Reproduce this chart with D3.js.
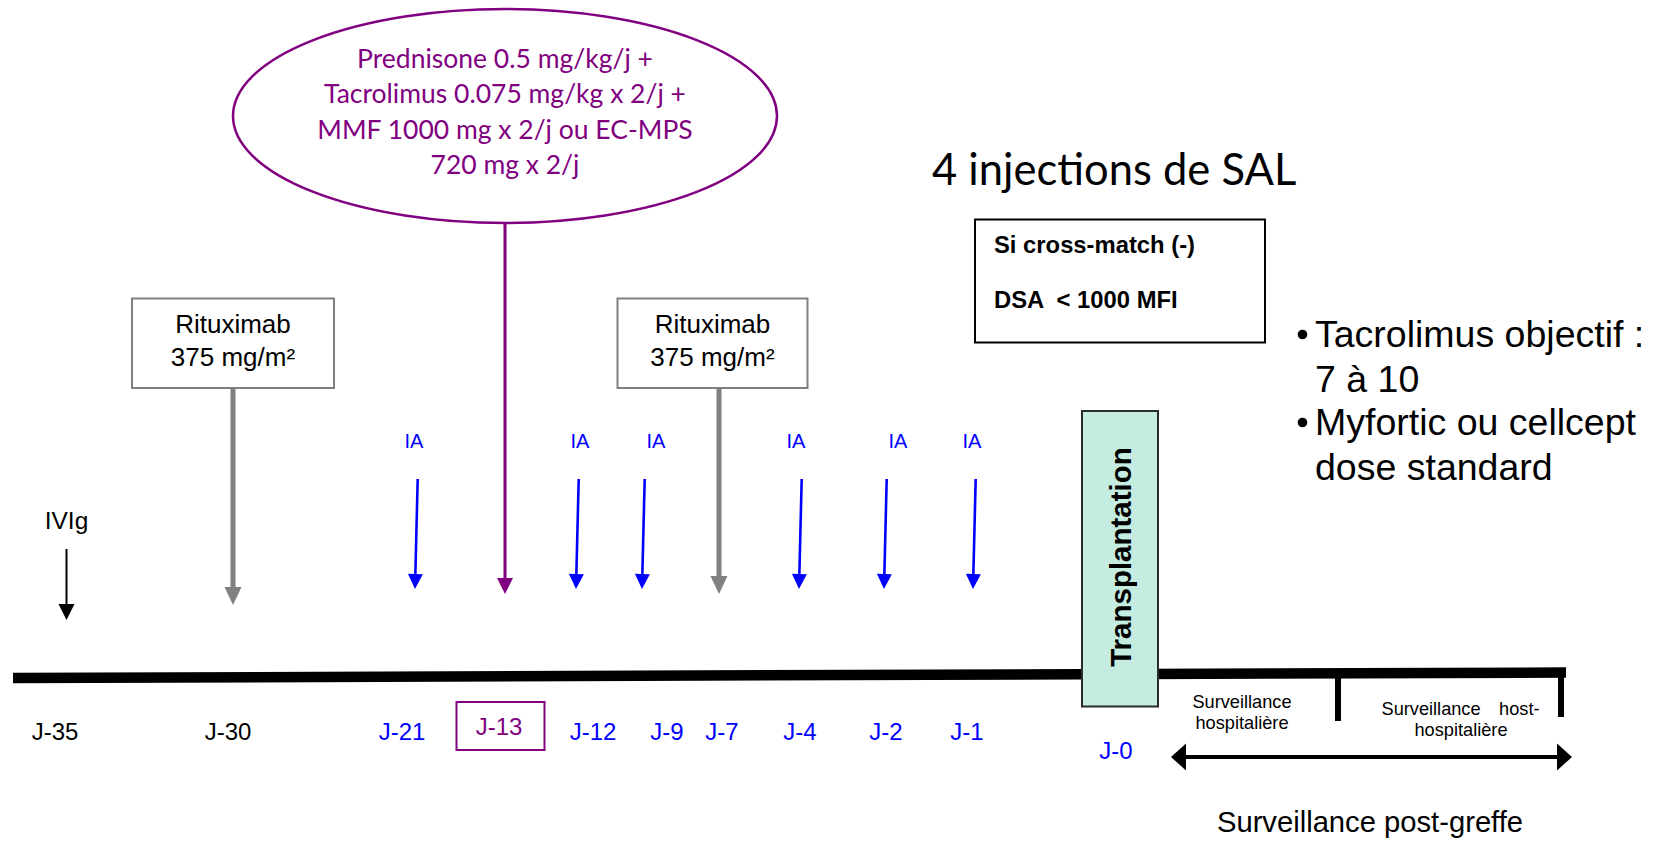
<!DOCTYPE html>
<html>
<head>
<meta charset="utf-8">
<script src="https://cdn.jsdelivr.net/npm/d3@7"></script>
<style>
    body { margin: 0; background: white; }
    svg { display: block; }
    text { white-space: pre; }
</style>
</head>
<body>
<div class="chart"></div>
<script>
// timeline days and their labels
var days = [-35, -30, -21, -13, -12, -9, -7, -4, -2, -1, 0];
var dayLabels = ["J-35", "J-30", "J-21", "J-13", "J-12", "J-9", "J-7", "J-4", "J-2", "J-1", "J-0"];

// treatments given on each day
var ivigDays = [-35];
var rituximabDays = [-30, -7];
var predDays = [-13];
var iaDays = [-21, -12, -9, -4, -2, -1];
var transplantDay = [0];

var ellipseLines = ["Prednisone 0.5 mg/kg/j +", "Tacrolimus 0.075 mg/kg x 2/j +", "MMF 1000 mg x 2/j ou EC-MPS", "720 mg x 2/j"];
var rituximabLines = ["Rituximab", "375 mg/m²"];
var crossMatchLines = ["Si cross-match (-)", "DSA  < 1000 MFI"];
var bulletLines = [["Tacrolimus objectif :", "7 à 10"], ["Myfortic ou cellcept", "dose standard"]];
var phaseLines = [["Surveillance", "hospitalière"], ["Surveillance", "host-", "hospitalière"]];
var titleSAL = "4 injections de SAL";
var titlePost = "Surveillance post-greffe";

var w = 1655;
var h = 842;
var purple = "#800080";
var blue = "#0000ff";
var gray = "#808080";
var arial = "Liberation Sans, Arial, sans-serif";
var calibri = "Lato, sans-serif";

// hand-drawn timeline is not evenly spaced, so piecewise scales
var xArrow = d3.scaleLinear()
                .domain([-35, -30, -21, -13, -12, -9, -7, -4, -2, -1, 0])
                .range([66.5, 233, 415, 505, 576, 642, 719, 799, 884, 973, 1120]);
var xLabel = d3.scaleOrdinal()
                .domain(days)
                .range([55, 228, 402, 499, 593, 667, 722, 800, 886, 967, 1116]);
var xIA = d3.scaleOrdinal()
                .domain(iaDays)
                .range([414, 580, 656, 796, 898, 972]);

var svg = d3.select(".chart")
            .append("svg")
            .attr("width", w)
            .attr("height", h);

svg.append("rect").attr("width", w).attr("height", h).attr("fill", "white");

function arrow(x1, y1, x2, y2, color, sw, headW, headL){
    var a = Math.atan2(y2 - y1, x2 - x1);
    var bx = x2 - headL * Math.cos(a), by = y2 - headL * Math.sin(a);
    var px = -Math.sin(a) * headW / 2, py = Math.cos(a) * headW / 2;
    svg.append("line")
        .attr("x1", x1).attr("y1", y1)
        .attr("x2", bx + Math.cos(a)).attr("y2", by + Math.sin(a))
        .attr("stroke", color)
        .attr("stroke-width", sw);
    svg.append("path")
        .attr("d", d3.line()([[x2, y2], [bx + px, by + py], [bx - px, by - py]]) + "Z")
        .attr("fill", color);
}

//Ellipse with the immunosuppression
svg.append("ellipse")
    .attr("cx", 505).attr("cy", 116)
    .attr("rx", 272).attr("ry", 107)
    .attr("fill", "none")
    .attr("stroke", purple)
    .attr("stroke-width", 2.5);

svg.selectAll(".ell-text")
    .data(ellipseLines)
    .enter()
    .append("text")
    .attr("x", 505)
    .attr("y", function(d, i){ return 68 + i * 35.3; })
    .attr("text-anchor", "middle")
    .attr("font-family", calibri)
    .attr("font-size", 26.5)
    .attr("fill", purple)
    .text(function(d){ return d; });

predDays.forEach(function(d){
    arrow(xArrow(d), 223, xArrow(d), 594, purple, 3, 16, 16);
});

//Rituximab boxes and arrows
rituximabDays.forEach(function(d, i){
    var cx = i == 0 ? 233 : 712.5;
    var bw = i == 0 ? 202 : 190;
    svg.append("rect")
        .attr("x", cx - bw / 2).attr("y", 298.5)
        .attr("width", bw).attr("height", 89.5)
        .attr("fill", "white")
        .attr("stroke", gray)
        .attr("stroke-width", 2);
    svg.selectAll(".ritux" + i)
        .data(rituximabLines)
        .enter()
        .append("text")
        .attr("x", cx)
        .attr("y", function(t, j){ return 333 + j * 32.5; })
        .attr("text-anchor", "middle")
        .attr("font-family", arial)
        .attr("font-size", 26)
        .attr("fill", "black")
        .text(function(t){ return t; });
    arrow(xArrow(d), 389, xArrow(d), i == 0 ? 605 : 594, gray, 5, 17, 18);
});

//IVIg
ivigDays.forEach(function(d){
    svg.append("text")
        .attr("x", xArrow(d))
        .attr("y", 529)
        .attr("text-anchor", "middle")
        .attr("font-family", arial)
        .attr("font-size", 24.5)
        .text("IVIg");
    arrow(xArrow(d), 549, xArrow(d), 620, "black", 2, 16, 16);
});

//Immunoadsorption
iaDays.forEach(function(d){
    svg.append("text")
        .attr("x", xIA(d))
        .attr("y", 448)
        .attr("text-anchor", "middle")
        .attr("font-family", arial)
        .attr("font-size", 20)
        .attr("fill", blue)
        .text("IA");
    arrow(xArrow(d) + 2.7, 479, xArrow(d), 589, blue, 2.6, 15, 15);
});

//SAL and cross-match
svg.append("text")
    .attr("x", 932)
    .attr("y", 185)
    .attr("font-family", calibri)
    .attr("font-size", 43.5)
    .attr("fill", "black")
    .text(titleSAL);

svg.append("rect")
    .attr("x", 975).attr("y", 219.5)
    .attr("width", 290).attr("height", 123)
    .attr("fill", "white")
    .attr("stroke", "black")
    .attr("stroke-width", 2);

svg.selectAll(".xm")
    .data(crossMatchLines)
    .enter()
    .append("text")
    .attr("x", 994)
    .attr("y", function(d, i){ return 253 + i * 55; })
    .attr("font-family", arial)
    .attr("font-weight", "bold")
    .attr("font-size", 23.8)
    .text(function(d){ return d; });

//Bullets on the right
var bulletY = 347;
bulletLines.forEach(function(b, i){
    svg.append("circle")
        .attr("cx", 1302.5)
        .attr("cy", bulletY + i * 88 - 12.5)
        .attr("r", 4.8)
        .attr("fill", "black");
    b.forEach(function(t, j){
        svg.append("text")
            .attr("x", 1315)
            .attr("y", bulletY + i * 88 + j * 44.5)
            .attr("font-family", arial)
            .attr("font-size", 37.5)
            .text(t);
    });
});

//Main timeline
svg.append("line")
    .attr("x1", 13).attr("y1", 678)
    .attr("x2", 1566).attr("y2", 672.5)
    .attr("stroke", "black")
    .attr("stroke-width", 10.5);

// phase separators
svg.append("line")
    .attr("x1", 1338).attr("y1", 674).attr("x2", 1338).attr("y2", 721)
    .attr("stroke", "black").attr("stroke-width", 6);
svg.append("line")
    .attr("x1", 1561).attr("y1", 672).attr("x2", 1561).attr("y2", 717)
    .attr("stroke", "black").attr("stroke-width", 6);

//Transplantation box
transplantDay.forEach(function(d){
    svg.append("rect")
        .attr("x", 1082).attr("y", 411)
        .attr("width", 76).attr("height", 295.5)
        .attr("fill", "#c4ece0")
        .attr("stroke", "#2b2b2b")
        .attr("stroke-width", 2);
    svg.append("text")
        .attr("transform", "translate(1130.5,557) rotate(-90)")
        .attr("text-anchor", "middle")
        .attr("font-family", arial)
        .attr("font-weight", "bold")
        .attr("font-size", 29.5)
        .text("Transplantation");
});

//Day labels
svg.selectAll(".day")
    .data(days)
    .enter()
    .append("text")
    .attr("x", function(d){ return xLabel(d); })
    .attr("y", function(d){
        if(d == 0) return 759;
        if(predDays.indexOf(d) >= 0) return 735;
        return 740;
    })
    .attr("text-anchor", "middle")
    .attr("font-family", arial)
    .attr("font-size", 24)
    .attr("fill", function(d){
        if(predDays.indexOf(d) >= 0) return purple;
        if(d >= -21) return blue;
        return "black";
    })
    .text(function(d, i){ return dayLabels[i]; });

predDays.forEach(function(d){
    svg.append("rect")
        .attr("x", 456.5).attr("y", 702)
        .attr("width", 88).attr("height", 48)
        .attr("fill", "none")
        .attr("stroke", purple)
        .attr("stroke-width", 2);
});

//Post-graft phases
svg.selectAll(".ph1")
    .data(phaseLines[0])
    .enter()
    .append("text")
    .attr("x", 1242)
    .attr("y", function(d, i){ return 708 + i * 20.5; })
    .attr("text-anchor", "middle")
    .attr("font-family", arial)
    .attr("font-size", 18.2)
    .text(function(d){ return d; });

svg.append("text")
    .attr("x", 1381.5).attr("y", 715)
    .attr("font-family", arial).attr("font-size", 18.2)
    .text(phaseLines[1][0]);
svg.append("text")
    .attr("x", 1539.5).attr("y", 715)
    .attr("text-anchor", "end")
    .attr("font-family", arial).attr("font-size", 18.2)
    .text(phaseLines[1][1]);
svg.append("text")
    .attr("x", 1461).attr("y", 735.5)
    .attr("text-anchor", "middle")
    .attr("font-family", arial).attr("font-size", 18.2)
    .text(phaseLines[1][2]);

// double arrow
arrow(1371, 757, 1171, 757, "black", 4, 27, 15);
arrow(1370, 757, 1572, 757, "black", 4, 27, 15);

svg.append("text")
    .attr("x", 1370)
    .attr("y", 831.5)
    .attr("text-anchor", "middle")
    .attr("font-family", arial)
    .attr("font-size", 29.2)
    .text(titlePost);
</script>
</body>
</html>
